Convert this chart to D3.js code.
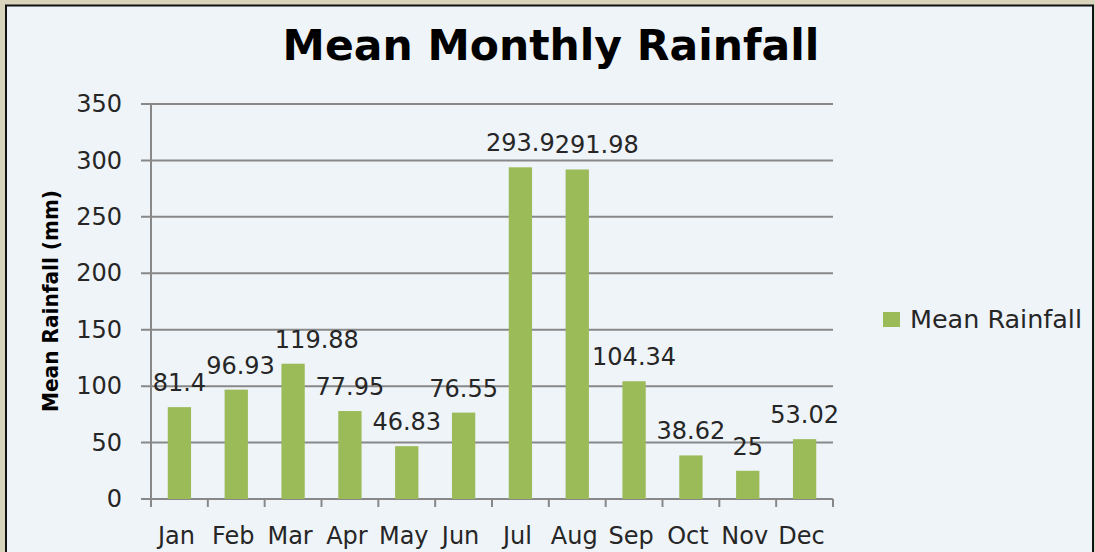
<!DOCTYPE html>
<html><head><meta charset="utf-8">
<script src="https://cdn.jsdelivr.net/npm/d3@7"></script>
<style>html,body{margin:0;padding:0;background:#d9d5bd;}svg{display:block;}</style>
</head><body><svg id="c" width="1095" height="552"></svg>
<script>
const categories = ["Jan","Feb","Mar","Apr","May","Jun","Jul","Aug","Sep","Oct","Nov","Dec"];
const meanRainfall = [81.4, 96.93, 119.88, 77.95, 46.83, 76.55, 293.9, 291.98, 104.34, 38.62, 25, 53.02];
const yTicks = [0, 50, 100, 150, 200, 250, 300, 350];
const seriesName = "Mean Rainfall";
const titleText = "Mean Monthly Rainfall";
const yTitle = "Mean Rainfall (mm)";

const svg = d3.select("#c");
const font = "'DejaVu Sans', Verdana, sans-serif";
const gridColor = "#888888";
const barColor = "#9bbb59";
const textColor = "#262626";

// panel
svg.append("rect").attr("x",0).attr("y",0).attr("width",1095).attr("height",552).attr("fill","#d9d5bd");
svg.append("rect").attr("x",6).attr("y",5.5).attr("width",1087).attr("height",560)
  .attr("fill","#eff4f9").attr("stroke","#111").attr("stroke-width",2);

const L = 151, R = 833, T = 104, B = 499;
const x = d3.scaleBand().domain(categories).range([L, R]).paddingInner(0.59).paddingOuter(0.295);
const y = d3.scaleLinear().domain([0, 350]).range([B, T]);

// title
svg.append("text").attr("x", 551).attr("y", 60).attr("text-anchor","middle")
  .attr("font-family", font).attr("font-weight","bold").attr("font-size", 42.5).attr("fill","#000")
  .text(titleText);

// gridlines
svg.append("g").selectAll("line").data(yTicks).join("line")
  .attr("x1", L - 10).attr("x2", R).attr("y1", d => y(d)).attr("y2", d => y(d))
  .attr("stroke", gridColor).attr("stroke-width", 2);

// y axis
const yAxis = svg.append("g").attr("transform", `translate(${L},0)`)
  .call(d3.axisLeft(y).tickValues(yTicks).tickSize(0).tickPadding(29));
yAxis.select(".domain").remove();
yAxis.selectAll("text").attr("font-family", font).attr("font-size", 24).attr("fill", textColor);
svg.append("line").attr("x1", L).attr("x2", L).attr("y1", T).attr("y2", B + 8)
  .attr("stroke", gridColor).attr("stroke-width", 2);

// x axis ticks at category boundaries
const bounds = d3.range(categories.length + 1).map(i => x.range()[0] + i * x.step());
svg.append("g").selectAll("line").data(bounds).join("line")
  .attr("x1", d => d).attr("x2", d => d).attr("y1", B).attr("y2", B + 8)
  .attr("stroke", gridColor).attr("stroke-width", 2);

const xAxis = svg.append("g").attr("transform", `translate(0,${B})`)
  .call(d3.axisBottom(x).tickSize(0).tickPadding(28));
xAxis.select(".domain").remove();
xAxis.selectAll("text").attr("font-family", font).attr("font-size", 24).attr("fill", textColor).attr("dx", -3);

// bars
svg.append("g").selectAll("rect").data(meanRainfall).join("rect")
  .attr("x", (d,i) => x(categories[i])).attr("width", x.bandwidth())
  .attr("y", d => y(d)).attr("height", d => B - y(d)).attr("fill", barColor);

// data labels (shift right when colliding with the previous label, like Excel)
const labels = svg.append("g").selectAll("text").data(meanRainfall).join("text")
  .attr("x", (d,i) => x(categories[i]) + x.bandwidth()/2)
  .attr("y", d => y(d) - 16).attr("text-anchor","middle")
  .attr("font-family", font).attr("font-size", 24).attr("fill", textColor)
  .text(d => d);
let prev = null;
labels.each(function(d, i) {
  const bb = this.getBBox();
  if (prev && bb.y < prev.y + prev.height && bb.y + bb.height > prev.y && bb.x < prev.x + prev.width) {
    const shift = prev.x + prev.width - bb.x;
    d3.select(this).attr("x", +d3.select(this).attr("x") + shift);
  }
  prev = this.getBBox();
});

// y title
svg.append("text").attr("transform", "translate(58,301) rotate(-90)").attr("text-anchor","middle")
  .attr("font-family", font).attr("font-weight","bold").attr("font-size", 22).attr("fill","#000")
  .attr("textLength", 222).attr("lengthAdjust","spacingAndGlyphs")
  .text(yTitle);

// legend
svg.append("rect").attr("x", 883).attr("y", 312).attr("width", 17).attr("height", 15).attr("fill", barColor);
svg.append("text").attr("x", 910).attr("y", 328).attr("font-family", font).attr("font-size", 24).attr("fill", textColor)
  .attr("textLength", 172).attr("lengthAdjust","spacingAndGlyphs")
  .text(seriesName);
</script></body></html>
